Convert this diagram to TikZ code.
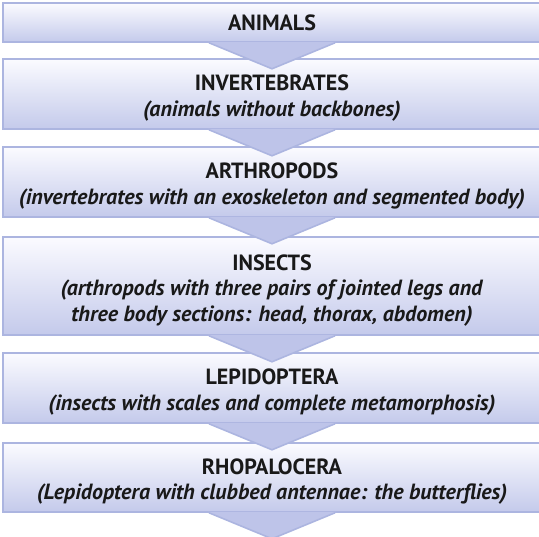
\documentclass[tikz,border=0pt]{standalone}
\usepackage{fontspec}
\setsansfont{PT Sans}
\usepackage{tikz}
\usetikzlibrary{positioning}

\definecolor{boxline}{RGB}{172,181,224}
\definecolor{boxtop}{RGB}{251,251,255}
\definecolor{boxbot}{RGB}{196,202,235}
\definecolor{arrowfill}{RGB}{190,196,233}

\newcommand{\toppad}{\rule{0pt}{24pt}}

\begin{document}
\begin{tikzpicture}[
    x=1pt, y=1pt, font=\sffamily\bfseries\fontsize{22}{25.5}\selectfont,
    level/.style={draw=boxline, line width=1.6pt, top color=boxtop, bottom color=boxbot, minimum width=538pt, align=center, inner sep=0pt, text=black!90},
    chevron/.style={fill=arrowfill},
    chevedge/.style={draw=boxline, line width=1.6pt}
]
    \useasboundingbox (0,0) rectangle (539,537);
    \clip (0,0) rectangle (539,537);

    \node[level, minimum height=39pt] (b1) at (272, 514.5) {ANIMALS};
    \node[level, minimum height=70pt] (b2) at (272, 443) {\toppad INVERTEBRATES\\ \textit{(animals without backbones)}};
    \node[level, minimum height=70pt] (b3) at (272, 355) {\toppad ARTHROPODS\\ \textit{(invertebrates with an exoskeleton and segmented body)}};
    \node[level, minimum height=98pt] (b4) at (272, 251) {\toppad INSECTS\\ \textit{(arthropods with three pairs of jointed legs and}\\ \textit{three body sections: head, thorax, abdomen)}};
    \node[level, minimum height=70pt] (b5) at (272, 149) {\toppad LEPIDOPTERA\\ \textit{(insects with scales and complete metamorphosis)}};
    \node[level, minimum height=69pt] (b6) at (272, 59.5) {\toppad RHOPALOCERA\\ \textit{(Lepidoptera with clubbed antennae: the butterflies)}};

    % arrow heads between the levels
    \fill[chevron] ([xshift=-64pt, yshift=0.9pt]b1.south) -- ([xshift=64pt, yshift=0.9pt]b1.south) -- ([yshift=-26pt]b1.south) -- cycle;
    \draw[chevedge] ([xshift=-63pt]b1.south) -- ([yshift=-26pt]b1.south) -- ([xshift=63pt]b1.south);
    \fill[chevron] ([xshift=-64pt, yshift=0.9pt]b2.south) -- ([xshift=64pt, yshift=0.9pt]b2.south) -- ([yshift=-26pt]b2.south) -- cycle;
    \draw[chevedge] ([xshift=-63pt]b2.south) -- ([yshift=-26pt]b2.south) -- ([xshift=63pt]b2.south);
    \fill[chevron] ([xshift=-64pt, yshift=0.9pt]b3.south) -- ([xshift=64pt, yshift=0.9pt]b3.south) -- ([yshift=-26pt]b3.south) -- cycle;
    \draw[chevedge] ([xshift=-63pt]b3.south) -- ([yshift=-26pt]b3.south) -- ([xshift=63pt]b3.south);
    \fill[chevron] ([xshift=-64pt, yshift=0.9pt]b4.south) -- ([xshift=64pt, yshift=0.9pt]b4.south) -- ([yshift=-26pt]b4.south) -- cycle;
    \draw[chevedge] ([xshift=-63pt]b4.south) -- ([yshift=-26pt]b4.south) -- ([xshift=63pt]b4.south);
    \fill[chevron] ([xshift=-64pt, yshift=0.9pt]b5.south) -- ([xshift=64pt, yshift=0.9pt]b5.south) -- ([yshift=-26pt]b5.south) -- cycle;
    \draw[chevedge] ([xshift=-63pt]b5.south) -- ([yshift=-26pt]b5.south) -- ([xshift=63pt]b5.south);
    \fill[chevron] ([xshift=-64pt, yshift=0.9pt]b6.south) -- ([xshift=64pt, yshift=0.9pt]b6.south) -- ([yshift=-26pt]b6.south) -- cycle;
    \draw[chevedge] ([xshift=-63pt]b6.south) -- ([yshift=-26pt]b6.south) -- ([xshift=63pt]b6.south);
\end{tikzpicture}
\end{document}
